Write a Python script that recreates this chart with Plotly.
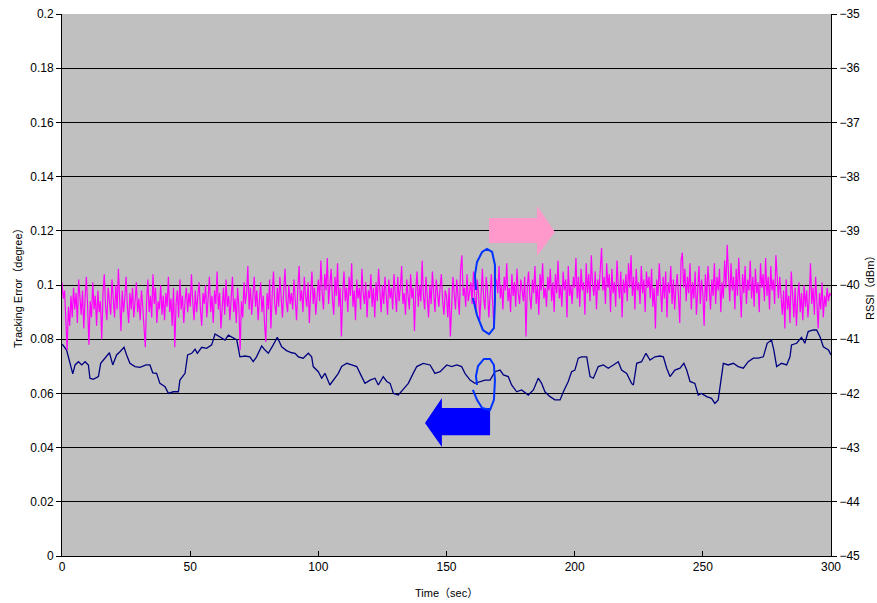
import plotly.graph_objects as go

# ---------------- data ----------------
# RSSI (dBm, right axis), sampled every 0.5 s from 0 to 300 s
RSSI_STEP_S = 0.5
rssi_dbm = [
    -39.95, -40.25, -40.10, -40.55, -41.20, -40.40, -40.75, -40.20, -40.60, -40.05, -40.45, -40.15, -40.70, -39.90, -40.35, -40.55, -40.10, -40.80, -40.25, -39.85,
    -40.40, -41.10, -40.30, -40.60, -39.95, -40.45, -40.20, -40.75, -40.10, -40.50, -40.30, -41.00, -40.15, -39.80, -40.40, -40.65, -40.05, -40.35, -40.55, -39.90,
    -40.20, -40.60, -40.00, -40.45, -39.70, -40.30, -40.85, -40.10, -40.50, -40.25, -39.85, -40.40, -40.70, -40.15, -40.45, -40.05, -40.60, -40.30, -39.95, -40.50,
    -40.25, -40.65, -40.10, -40.40, -40.80, -41.15, -40.30, -39.90, -40.50, -40.20, -40.60, -39.80, -40.35, -40.05, -40.70, -40.30, -40.45, -40.00, -40.55, -40.20,
    -40.65, -40.15, -40.40, -39.85, -40.50, -40.25, -40.75, -40.05, -41.15, -40.35, -40.10, -40.60, -39.90, -40.45, -40.20, -40.70, -40.30, -40.05, -40.50, -40.15,
    -40.40, -39.80, -40.30, -40.65, -40.10, -40.50, -40.20, -39.95, -40.45, -40.75, -40.15, -40.35, -40.00, -40.60, -40.25, -39.85, -40.50, -40.20, -40.70, -40.10,
    -40.35, -39.75, -40.45, -40.15, -40.80, -40.30, -40.05, -40.55, -39.90, -40.40, -40.20, -40.65, -40.10, -39.85, -40.50, -40.25, -40.70, -40.05, -40.40, -41.20,
    -40.30, -40.60, -39.95, -40.35, -40.15, -39.65, -40.45, -40.05, -40.55, -40.20, -39.85, -40.40, -40.10, -40.65, -40.25, -39.95, -40.50, -40.20, -40.70, -41.05,
    -40.15, -40.45, -39.90, -40.80, -40.20, -39.75, -40.35, -40.55, -40.05, -40.40, -39.85, -40.25, -40.60, -40.10, -39.70, -40.30, -40.50, -40.00, -40.35, -40.15,
    -40.45, -39.90, -40.25, -40.65, -40.05, -39.65, -40.30, -40.10, -40.50, -39.85, -40.20, -40.40, -39.95, -40.70, -40.15, -39.75, -40.35, -40.05, -40.55, -40.20,
    -39.90, -40.30, -39.55, -40.15, -40.45, -39.80, -40.10, -39.50, -40.35, -40.00, -39.70, -40.25, -40.55, -39.85, -40.20, -39.60, -40.40, -40.05, -40.95, -40.15,
    -39.75, -40.30, -40.05, -40.50, -39.85, -40.20, -39.60, -40.40, -40.10, -40.65, -39.90, -40.25, -40.05, -40.45, -39.70, -40.15, -40.35, -39.95, -40.60, -40.10,
    -40.25, -39.80, -40.40, -40.05, -40.60, -39.95, -40.30, -39.70, -40.20, -40.50, -40.00, -40.35, -39.85, -40.15, -40.55, -39.90, -40.25, -40.05, -40.45, -39.80,
    -40.15, -40.50, -39.85, -40.30, -40.05, -39.65, -40.35, -40.15, -40.55, -39.90, -40.20, -40.45, -39.80, -40.25, -40.05, -40.85, -40.10, -39.75, -40.40, -40.00,
    -40.30, -39.55, -40.20, -40.45, -39.85, -40.15, -40.60, -40.00, -40.35, -39.75, -40.25, -40.50, -39.90, -40.15, -40.40, -40.05, -39.80, -40.30, -40.55, -40.10,
    -40.20, -40.60, -40.05, -40.95, -40.30, -39.85, -40.15, -40.45, -39.90, -40.25, -40.55, -39.70, -39.45, -40.20, -40.05, -40.40, -39.80, -40.30, -40.10, -39.95,
    -40.35, -39.75, -40.20, -40.50, -39.90, -40.15, -40.65, -40.00, -39.70, -40.25, -40.45, -39.85, -40.10, -40.60, -40.05, -39.80, -40.30, -40.80, -40.00, -39.90,
    -40.15, -39.65, -40.25, -40.00, -40.45, -39.85, -40.10, -39.60, -40.30, -40.05, -40.50, -39.80, -40.20, -39.95, -40.40, -39.70, -40.15, -40.35, -39.90, -40.10,
    -40.30, -39.85, -40.95, -40.05, -39.75, -40.20, -40.45, -39.90, -40.15, -39.65, -40.35, -40.00, -40.55, -39.80, -40.10, -39.60, -40.25, -40.05, -40.40, -39.85,
    -40.10, -39.70, -40.30, -39.95, -40.50, -39.80, -40.15, -39.55, -40.25, -40.00, -40.40, -39.75, -40.10, -39.90, -40.60, -39.65, -40.20, -40.00, -40.35, -39.85,
    -40.05, -39.50, -40.25, -39.85, -40.40, -39.70, -40.10, -39.95, -40.55, -39.60, -40.15, -39.80, -40.30, -39.45, -40.00, -40.20, -39.75, -40.45, -39.90, -40.10,
    -39.65, -39.32, -40.10, -39.85, -40.35, -39.60, -40.05, -39.80, -40.50, -39.70, -40.15, -39.95, -40.40, -39.55, -40.00, -40.25, -39.75, -40.60, -39.90, -40.15,
    -39.80, -40.30, -39.60, -40.05, -39.45, -40.20, -39.85, -40.45, -39.70, -40.10, -39.95, -40.35, -39.65, -40.15, -39.90, -40.50, -39.75, -40.05, -39.85, -40.25,
    -39.70, -40.40, -40.05, -40.80, -39.90, -40.20, -39.60, -40.10, -40.50, -39.85, -40.25, -39.75, -40.60, -39.95, -40.15, -39.65, -40.35, -39.90, -40.45, -40.05,
    -39.80, -40.20, -40.70, -39.55, -39.40, -40.05, -39.70, -40.30, -39.85, -40.15, -39.60, -40.45, -39.95, -40.25, -39.75, -40.55, -40.00, -39.65, -40.35, -39.90,
    -40.15, -40.75, -39.80, -40.30, -39.65, -40.05, -40.45, -39.90, -40.20, -39.60, -40.35, -39.85, -40.10, -39.70, -40.50, -39.95, -40.25, -39.55, -40.05, -39.26,
    -39.75, -40.30, -39.60, -40.10, -39.85, -40.45, -39.70, -40.20, -39.50, -40.05, -40.60, -39.80, -40.15, -39.65, -40.35, -39.90, -40.10, -39.55, -40.25, -39.85,
    -40.40, -39.70, -40.15, -39.95, -40.50, -39.60, -40.05, -39.80, -40.30, -39.50, -40.20, -39.85, -40.45, -39.65, -40.10, -39.90, -40.35, -39.45, -40.00, -40.25,
    -39.85, -40.30, -40.55, -40.10, -40.80, -39.90, -40.45, -40.20, -40.70, -39.75, -40.35, -40.60, -40.05, -40.75, -40.25, -39.95, -40.50, -40.15, -40.65, -40.00,
    -40.40, -40.10, -40.60, -40.25, -39.60, -40.35, -40.05, -40.55, -39.85, -40.30, -40.80, -40.15, -40.45, -39.95, -40.60, -40.20, -40.40, -40.05, -40.30, -40.15,
    -40.20,
]
rssi_time = [i * RSSI_STEP_S for i in range(len(rssi_dbm))]

# Tracking error (degree, left axis)
track_time = [
    0.0, 0.3, 1.8, 3.1, 4.2, 5.1, 6.4, 7.7, 9.0, 10.3, 10.9, 12.2, 14.2, 15.1, 16.8, 18.5, 19.8, 21.3, 22.6, 24.2,
    25.2, 26.5, 28.5, 30.4, 32.8, 34.3, 35.4, 36.9, 38.2, 40.2, 41.5, 43.4, 45.4, 46.0, 48.0, 49.0, 50.6, 51.9, 52.8, 54.5,
    56.4, 58.4, 59.7, 61.6, 63.6, 64.9, 66.8, 68.2, 69.4, 71.4, 73.3, 74.6, 75.9, 77.9, 79.2, 80.5, 82.4, 84.0, 85.7, 87.6,
    89.6, 90.9, 92.2, 94.1, 96.1, 97.4, 98.0, 100.0, 101.3, 102.6, 104.5, 105.8, 107.8, 109.1, 111.1, 113.0, 115.0, 116.9, 118.2, 120.2,
    122.1, 123.4, 125.3, 126.7, 128.0, 129.3, 131.2, 133.1, 135.1, 137.0, 138.4, 140.9, 143.6, 145.5, 147.5, 150.1, 152.0, 154.0, 155.9, 157.2,
    159.2, 161.1, 163.1, 165.0, 167.0, 168.9, 170.9, 172.2, 174.1, 175.4, 177.4, 179.3, 181.9, 183.9, 185.8, 187.1, 188.4, 190.4, 192.3, 194.3,
    195.6, 197.5, 198.8, 200.1, 201.4, 202.7, 204.7, 206.0, 207.3, 209.2, 211.2, 213.1, 215.1, 217.0, 218.3, 220.3, 222.2, 222.9, 224.2, 226.1,
    227.8, 229.4, 231.3, 233.3, 234.6, 235.9, 237.2, 239.1, 241.1, 242.6, 243.7, 245.0, 246.9, 248.2, 249.5, 251.5, 253.4, 254.7, 256.0, 257.0,
    258.0, 259.9, 261.9, 263.8, 265.8, 267.7, 269.7, 271.6, 273.6, 275.1, 276.8, 277.7, 278.8, 280.7, 282.7, 284.0, 284.6, 286.6, 288.5, 289.8,
    291.1, 293.1, 294.4, 295.7, 297.0, 299.0, 300.0,
]
track_err = [
    0.0780, 0.0779, 0.0760, 0.0711, 0.0672, 0.0705, 0.0717, 0.0705, 0.0717, 0.0705, 0.0656, 0.0652, 0.0662, 0.0711, 0.0730, 0.0750, 0.0705, 0.0742, 0.0754, 0.0770,
    0.0742, 0.0711, 0.0699, 0.0696, 0.0705, 0.0705, 0.0676, 0.0674, 0.0637, 0.0625, 0.0600, 0.0606, 0.0606, 0.0649, 0.0674, 0.0742, 0.0748, 0.0763, 0.0748, 0.0770,
    0.0766, 0.0779, 0.0819, 0.0807, 0.0797, 0.0815, 0.0803, 0.0797, 0.0735, 0.0738, 0.0735, 0.0717, 0.0735, 0.0775, 0.0760, 0.0748, 0.0779, 0.0807, 0.0772, 0.0758,
    0.0750, 0.0748, 0.0735, 0.0730, 0.0748, 0.0735, 0.0699, 0.0680, 0.0656, 0.0674, 0.0631, 0.0649, 0.0674, 0.0699, 0.0711, 0.0705, 0.0699, 0.0662, 0.0637, 0.0649,
    0.0656, 0.0631, 0.0662, 0.0644, 0.0637, 0.0600, 0.0594, 0.0615, 0.0637, 0.0674, 0.0699, 0.0711, 0.0705, 0.0674, 0.0680, 0.0705, 0.0699, 0.0705, 0.0699, 0.0674,
    0.0649, 0.0637, 0.0644, 0.0649, 0.0649, 0.0680, 0.0686, 0.0668, 0.0662, 0.0631, 0.0606, 0.0613, 0.0594, 0.0613, 0.0656, 0.0637, 0.0606, 0.0588, 0.0576, 0.0576,
    0.0606, 0.0644, 0.0680, 0.0686, 0.0730, 0.0735, 0.0735, 0.0662, 0.0656, 0.0699, 0.0705, 0.0693, 0.0705, 0.0717, 0.0686, 0.0674, 0.0637, 0.0631, 0.0711, 0.0717,
    0.0748, 0.0723, 0.0735, 0.0738, 0.0735, 0.0693, 0.0662, 0.0686, 0.0693, 0.0711, 0.0686, 0.0644, 0.0637, 0.0594, 0.0600, 0.0588, 0.0582, 0.0563, 0.0576, 0.0637,
    0.0711, 0.0705, 0.0711, 0.0699, 0.0693, 0.0717, 0.0730, 0.0730, 0.0735, 0.0785, 0.0797, 0.0760, 0.0699, 0.0711, 0.0705, 0.0735, 0.0779, 0.0785, 0.0807, 0.0785,
    0.0828, 0.0834, 0.0834, 0.0809, 0.0772, 0.0760, 0.0742,
]

x_ticks = [0, 50, 100, 150, 200, 250, 300]
left_ticks = [0, 0.02, 0.04, 0.06, 0.08, 0.1, 0.12, 0.14, 0.16, 0.18, 0.2]
right_ticks = [-45, -44, -43, -42, -41, -40, -39, -38, -37, -36, -35]

x_title = "Time（sec）"
left_title = "Tracking Error（degree）"
right_title = "RSSI（dBm）"

# ---------------- figure ----------------
FONT = "Liberation Sans, Arial, Noto Sans CJK JP, sans-serif"

fig = go.Figure()
fig.add_trace(go.Scatter(
    x=rssi_time, y=rssi_dbm, yaxis="y2", mode="lines",
    line=dict(color="#FF00FF", width=1.2), name="RSSI", showlegend=False,
))
fig.add_trace(go.Scatter(
    x=track_time, y=track_err, yaxis="y", mode="lines",
    line=dict(color="#000080", width=1.3), name="Tracking Error", showlegend=False,
))

def path(points):
    return "M " + " L ".join(f"{x},{y}" for x, y in points)

# annotation shapes (arrows and hand-drawn loops), in data coordinates
pink_arrow = [(166.6, 0.1247), (185.3, 0.1247), (185.3, 0.1292), (192.3, 0.1196),
              (185.3, 0.1107), (185.3, 0.1155), (166.6, 0.1155)]
blue_arrow = [(167.0, 0.0546), (148.2, 0.0546), (148.2, 0.0583), (141.6, 0.0491),
              (148.2, 0.0402), (148.2, 0.0446), (167.0, 0.0446)]
upper_loop = [(160.3, 0.0952), (161.9, 0.0889), (164.2, 0.0834), (166.6, 0.0819), (168.5, 0.0841),
              (168.9, 0.0945), (168.9, 0.1074), (167.8, 0.1122), (165.8, 0.1133), (163.9, 0.1122),
              (161.9, 0.1085), (161.1, 0.1037), (161.5, 0.0982)]
lower_loop = [(160.3, 0.0613), (161.9, 0.0576), (163.9, 0.0546), (167.0, 0.0539), (168.5, 0.0576),
              (168.9, 0.0649), (168.5, 0.0705), (167.0, 0.0727), (164.6, 0.0727), (162.3, 0.0701),
              (161.5, 0.0664), (161.9, 0.0631)]

shapes = [
    dict(type="path", path=path(pink_arrow) + " Z", xref="x", yref="y",
         fillcolor="#FF99CC", line=dict(width=0), layer="above"),
    dict(type="path", path=path(blue_arrow) + " Z", xref="x", yref="y",
         fillcolor="#0000FF", line=dict(width=0), layer="above"),
    dict(type="path", path=path(upper_loop), xref="x", yref="y",
         line=dict(color="#0033FF", width=2), layer="above"),
    dict(type="path", path=path(lower_loop), xref="x", yref="y",
         line=dict(color="#0033FF", width=2), layer="above"),
]

title_font = dict(family=FONT, size=11, color="black")
annotations = [
    dict(text=x_title, xref="paper", yref="paper", x=0.5, y=0, yshift=-37,
         xanchor="center", yanchor="middle", showarrow=False, font=title_font),
    dict(text=left_title, xref="paper", yref="paper", x=0, y=0.5, xshift=-44,
         xanchor="center", yanchor="middle", textangle=-90, showarrow=False, font=title_font),
    dict(text=right_title, xref="paper", yref="paper", x=1, y=0.5, xshift=39,
         xanchor="center", yanchor="middle", textangle=-90, showarrow=False, font=title_font),
]

fig.update_layout(
    width=877, height=603,
    margin=dict(l=62, r=46, t=14, b=47, autoexpand=False),
    paper_bgcolor="white", plot_bgcolor="#C0C0C0",
    font=dict(family=FONT, size=12, color="black"),
    shapes=shapes,
    annotations=annotations,
    xaxis=dict(
        range=[0, 300], tickvals=x_ticks, ticks="inside", ticklen=5, tickcolor="black",
        showgrid=False, showline=True, linecolor="black", linewidth=1, zeroline=False,
        automargin=False,
    ),
    yaxis=dict(
        range=[0, 0.2], tickvals=left_ticks, ticks="outside", ticklen=5, tickcolor="black",
        showgrid=True, gridcolor="black", gridwidth=1, showline=True, linecolor="black",
        linewidth=1, zeroline=False, automargin=False,
    ),
    yaxis2=dict(
        range=[-45, -35], tickvals=right_ticks, overlaying="y", side="right",
        ticks="outside", ticklen=5, tickcolor="black", showgrid=False,
        showline=True, linecolor="black", linewidth=1, zeroline=False, automargin=False,
    ),
)

fig.write_html(
    "out.html",
    config={"displayModeBar": False},
    post_script="document.body.style.margin='0';document.body.style.overflow='hidden';",
)
